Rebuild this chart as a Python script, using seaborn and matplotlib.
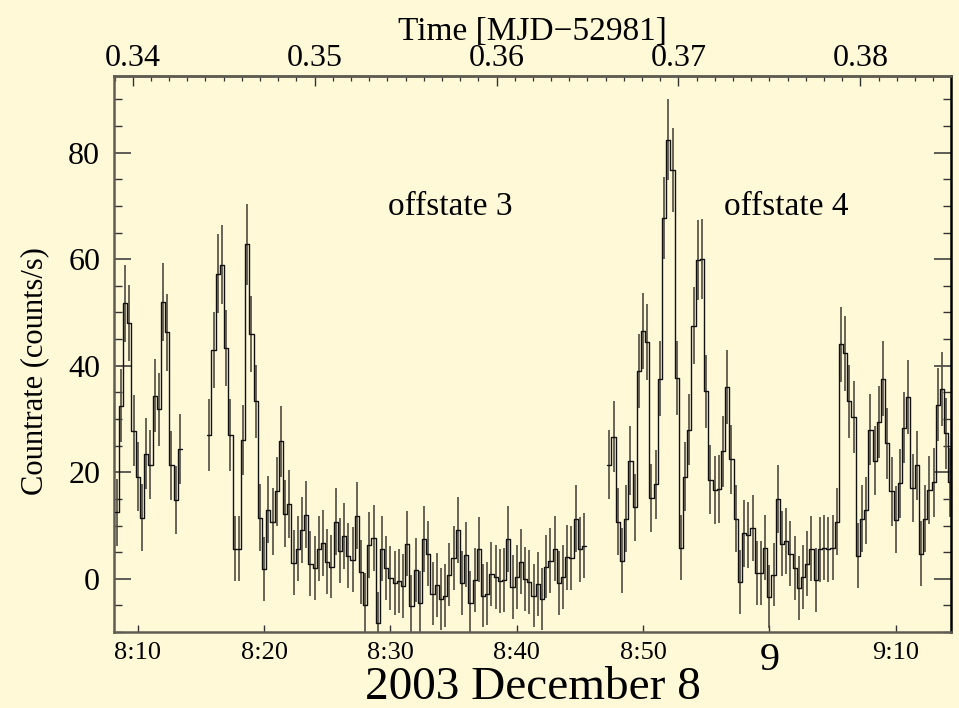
import numpy as np
import pandas as pd
import matplotlib
matplotlib.use('Agg')
import matplotlib.pyplot as plt
from matplotlib.ticker import MultipleLocator, FixedLocator
import seaborn as sns

# ---------------- data: 20 s bins, time in minutes after 8:00 UT ----------------
BIN = 1.0 / 3.0

seg1_start = 8.1667
seg1_rate = [12.5, 32.5, 51.7, 48.0, 27.8, 19.2, 11.5, 23.5, 21.4, 34.4, 31.8, 52.0, 46.3, 21.3, 14.8, 24.4]
seg1_err = [6.3, 6.8, 7.3, 7.2, 6.7, 6.5, 6.3, 6.6, 6.5, 6.9, 6.8, 7.3, 7.2, 6.5, 6.4, 6.6]

seg2_start = 15.5
seg2_rate = [27, 43, 57.3, 59, 43.3, 27, 5.6, 5.6, 26, 62.8, 45.9, 33.3, 11.5, 1.9, 13, 10.7, 16.4, 25.8,
             12.2, 14.1, 3.0, 5.6, 9.2, 12, 2.8, 2.1, 5.6, 6.8, 3.2, 2.3, 10.7, 5.3, 8.1, 4.3, 3.6, 11.8,
             1.3, -4.9, 6.4, 7.7, -8.3, 5.6,
             2.1, 0.2, -0.8, -0.4, -1.4, 6.6, -5.1, 1.6, -4.5, 7.5, 4.7, -2.8, -1.1, -3.8, -3.2, 0.8,
             3.9, 9.2, -0.8, 4.5, -4.5, -0.2, 5.5, -3.2, -2.8, 0.9, 0.4, -0.4, -0.2, 7.5, -1.5, 0.4,
             3.2, 0.0, -0.6, -3.2, -0.9, -3.8, 2.3, 3.4, 5.6, -0.8, 0.4, 4.0, 3.9, 11.3, 5.5, 6.2]
seg2_err = [6.7, 7.1, 7.4, 7.5, 7.1, 6.7, 6.1, 6.1, 6.6, 7.6, 7.1, 6.8, 6.3, 6.0, 6.3, 6.3, 6.4, 6.6,
            6.3, 6.4, 6.1, 6.1, 6.2, 6.3, 6.1, 6.0, 6.1, 6.2, 6.1, 6.0, 6.3, 6.1, 6.2, 6.1, 6.1, 6.3,
            6.0, 5.9, 6.2, 6.2, 5.8, 6.1,
            6.0, 6.0, 6.0, 6.0, 6.0, 6.1, 5.9, 6.0, 5.9, 6.2, 6.1, 5.9, 6.0, 5.9, 5.9, 6.0,
            6.1, 6.2, 6.0, 6.1, 5.9, 6.0, 6.1, 5.9, 5.9, 6.0, 6.0, 6.0, 6.0, 6.2, 6.0, 6.0,
            6.1, 6.0, 6.0, 5.9, 6.0, 5.9, 6.0, 6.1, 6.1, 6.0, 6.0, 6.1, 6.1, 6.3, 6.1, 6.1]

seg3_start = 47.1667
seg3_rate = [21.4, 26.7, 10.7, 3.4, 11.3, 22.2, 13.4, 39, 46.5, 44.4, 15.2, 17.7, 37.6, 67.7, 82.4, 76.7,
             37.7, 5.8, 19.2, 28, 47.5, 59.8, 60, 35.2, 18.6, 16.7, 16.9, 23.9, 36, 22.4, 11.3, -0.6,
             8.5, 8.3, 9.6, 1.1, 1.1, 5.8, -3.4, 0.8, 14.9, 6.6, 7.1, 4.7, 2.1, -1.7, 0.4, 2.8, 5.6,
             -0.2, 5.5, 5.8, 5.5, 5.8, 10.7, 44, 42.3, 33.3, 30.4, 4.3, 11.3, 12.9, 28, 22.2, 29.4,
             37.6, 25.4, 16.4, 11.1, 17.9, 28.4, 34.1, 17.1, 21.3, 4.7, 11.3, 16.6, 18.1, 32.7, 35.6,
             27.3, 18.1]
seg3_err = [6.5, 6.7, 6.3, 6.1, 6.3, 6.5, 6.3, 7.0, 7.2, 7.1, 6.4, 6.4, 7.0, 7.7, 7.6, 7.9,
            7.0, 6.1, 6.5, 6.7, 7.2, 7.5, 7.5, 6.9, 6.5, 6.4, 6.4, 6.6, 6.9, 6.5, 6.3, 6.0,
            6.2, 6.2, 6.2, 6.0, 6.0, 6.1, 5.9, 6.0, 6.4, 6.1, 6.2, 6.1, 6.0, 6.0, 6.0, 6.1, 6.1,
            6.0, 6.1, 6.1, 6.1, 6.1, 6.3, 7.1, 7.1, 6.8, 6.8, 6.1, 6.3, 6.3, 6.7, 6.5, 6.7,
            7.0, 6.6, 6.4, 6.3, 6.5, 6.7, 6.9, 6.4, 6.5, 6.1, 6.3, 6.4, 6.5, 6.8, 6.9,
            6.7, 6.5]

bottom_ticks = [10, 20, 30, 40, 50, 60, 70]
bottom_labels = ['8:10', '8:20', '8:30', '8:40', '8:50', '9', '9:10']
top_ticks = [0.34, 0.35, 0.36, 0.37, 0.38]

segments = [(seg1_start, seg1_rate, seg1_err),
            (seg2_start, seg2_rate, seg2_err),
            (seg3_start, seg3_rate, seg3_err)]

# step-curve table (bin edges) and error-bar table (bin centres)
step_rows = []
bar_rows = []
for k, (start, rate, err) in enumerate(segments):
    n = len(rate)
    edges = start + BIN * np.arange(n + 1)
    vals = list(rate) + [rate[-1]]
    for e, v in zip(edges, vals):
        step_rows.append({'t': e, 'rate': v, 'seg': k})
    for i in range(n):
        bar_rows.append({'t': start + BIN * (i + 0.5), 'rate': rate[i], 'err': err[i]})
steps = pd.DataFrame(step_rows)
bars = pd.DataFrame(bar_rows)

# ---------------- plot ----------------
bg = '#fff9d8'
sns.set_style('ticks')
plt.rcParams['font.family'] = ['Liberation Serif', 'DejaVu Serif']
plt.rcParams['axes.unicode_minus'] = True
plt.rcParams['text.color'] = 'black'
plt.rcParams['axes.labelcolor'] = 'black'

fig = plt.figure(figsize=(9.59, 7.08), dpi=100, facecolor=bg)
ax = fig.add_axes([0.1189, 0.1073, 0.8728, 0.7854])
ax.set_facecolor(bg)

ax.vlines(bars['t'], bars['rate'] - bars['err'], bars['rate'] + bars['err'],
          color='#4f4c40', linewidth=1.2, zorder=2)
sns.lineplot(data=steps, x='t', y='rate', units='seg', estimator=None, sort=False,
             drawstyle='steps-post', color='#111111', linewidth=1.0, ax=ax, zorder=3)

ax.set_xlim(8.12, 74.38)
ax.set_ylim(-10, 94.4)

# y axis
ax.yaxis.set_major_locator(MultipleLocator(20))
ax.yaxis.set_minor_locator(MultipleLocator(5))
ax.tick_params(axis='y', which='major', direction='in', length=12, width=1.1,
               left=True, right=True, labelsize=23, pad=10, colors='#333333', labelcolor='black')
ax.tick_params(axis='y', which='minor', direction='in', length=6, width=1.0,
               left=True, right=True, colors='#333333')
ax.set_ylabel('Countrate (counts/s)', fontsize=22, color='black')
ax.yaxis.set_label_coords(-0.078, 0.47)

# bottom axis: clock time
ax.xaxis.set_major_locator(FixedLocator(bottom_ticks))
ax.set_xticklabels(bottom_labels)
ax.tick_params(axis='x', which='major', direction='in', length=5, width=1.0, top=False,
               bottom=True, labelsize=19, pad=7, colors='#333333', labelcolor='black')
ax.get_xticklabels()[5].set_fontsize(29)
ax.set_xlabel('2003 December 8', fontsize=34, color='black')
ax.xaxis.set_label_coords(0.5, -0.062)

# top axis: MJD
secax = ax.secondary_xaxis('top', functions=(lambda m: (m + 480.0) / 1440.0,
                                             lambda d: d * 1440.0 - 480.0))
secax.xaxis.set_major_locator(FixedLocator(top_ticks))
secax.xaxis.set_minor_locator(MultipleLocator(0.001))
secax.set_xticklabels(['%.2f' % v for v in top_ticks])
secax.tick_params(axis='x', which='major', direction='in', length=7, width=1.0,
                  labelsize=23, pad=2, colors='#333333', labelcolor='black')
secax.tick_params(axis='x', which='minor', direction='in', length=3.6, width=0.9,
                  colors='#333333')
secax.set_xlabel('Time [MJD\u221252981]', fontsize=24, labelpad=3, color='black')

for name in ['left', 'bottom', 'top']:
    ax.spines[name].set_color('#5f5d52')
    ax.spines[name].set_linewidth(1.8)
ax.spines['right'].set_color('black')
ax.spines['right'].set_linewidth(1.8)
secax.spines['top'].set_color('#5f5d52')
secax.spines['top'].set_linewidth(1.8)

ax.text(34.76, 69.8, 'offstate 3', fontsize=24, ha='center', va='center')
ax.text(61.3, 69.8, 'offstate 4', fontsize=24, ha='center', va='center')

fig.savefig('out.png', dpi=100, facecolor=bg)
